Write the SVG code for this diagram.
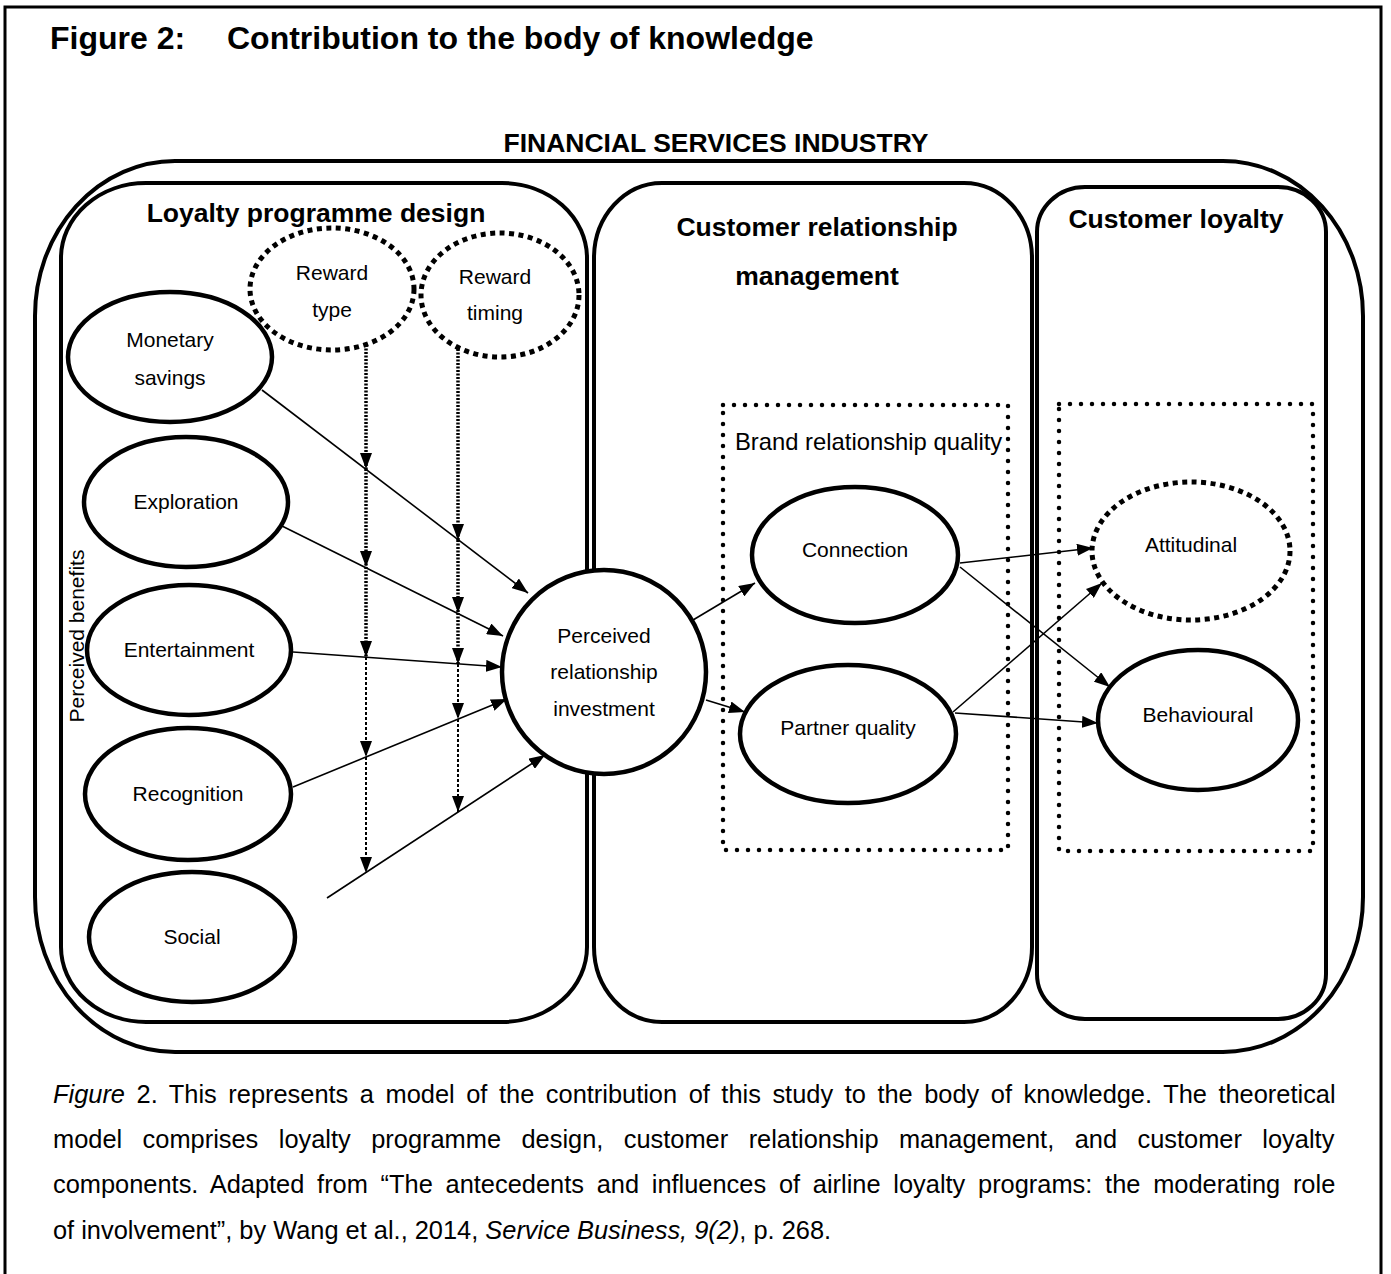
<svg xmlns="http://www.w3.org/2000/svg" width="1391" height="1274" viewBox="0 0 1391 1274">
  <style>
    .box { fill: none; stroke: #000; stroke-width: 4; }
    .node { fill: #fff; stroke: #000; stroke-width: 4.5; }
    .dash-node { fill: #fff; stroke: #000; stroke-width: 5; stroke-dasharray: 5 4.5; }
    .dots { fill: none; stroke: #000; stroke-width: 4.5; stroke-dasharray: 0 11; stroke-linecap: round; }
    .lbl { font-family: "Liberation Sans", Arial, sans-serif; font-size: 21px; fill: #000; text-anchor: middle; }
    .head { font-family: "Liberation Sans", Arial, sans-serif; font-size: 26.5px; font-weight: bold; fill: #000; text-anchor: middle; }
    .cap { font-family: "Liberation Sans", Arial, sans-serif; font-size: 25.4px; fill: #000; }
    .edge { fill: none; stroke: #000; stroke-width: 1.6; marker-end: url(#arrow); }
    .mod-thick { fill: none; stroke: #000; stroke-width: 3.5; stroke-dasharray: 2 1.5; marker-end: url(#arrow); }
    .mod-thin { fill: none; stroke: #000; stroke-width: 2; stroke-dasharray: 3 2; marker-end: url(#arrow); }
  </style>
  <defs>
    <marker id="arrow" viewBox="0 0 16 12" refX="16" refY="6" markerWidth="16" markerHeight="12" markerUnits="userSpaceOnUse" orient="auto">
      <path d="M0,0 L16,6 L0,12 Z" fill="#000"/>
    </marker>
  </defs>

  <rect width="1391" height="1274" fill="#fff"/>

  <!-- page frame (open at the bottom) -->
  <path d="M5,1274 V7 H1381 V1274" fill="none" stroke="#000" stroke-width="3"/>

  <!-- title -->
  <g id="title" font-family="Liberation Sans, Arial, sans-serif" font-size="32" font-weight="bold">
    <text x="50" y="49">Figure 2:</text>
    <text x="227" y="49">Contribution to the body of knowledge</text>
  </g>

  <!-- industry container -->
  <g id="industry">
    <rect class="box" x="35" y="161" width="1328" height="891" rx="140" ry="155"/>
    <text class="head" x="716" y="152">FINANCIAL SERVICES INDUSTRY</text>
  </g>

  <!-- section containers -->
  <g id="section-design">
    <rect class="box" x="61" y="183" width="526" height="839" rx="85" ry="75"/>
    <text class="head" x="316" y="222">Loyalty programme design</text>
    <text class="lbl" transform="translate(84,636) rotate(-90)">Perceived benefits</text>
  </g>
  <g id="section-crm">
    <rect class="box" x="594" y="183" width="438" height="839" rx="68" ry="75"/>
    <text class="head" x="817" y="236">Customer relationship</text>
    <text class="head" x="817" y="285">management</text>
  </g>
  <g id="section-loyalty">
    <rect class="box" x="1037" y="187" width="289" height="832" rx="48" ry="45"/>
    <text class="head" x="1176" y="228">Customer loyalty</text>
  </g>

  <!-- dotted groupings -->
  <g id="brand-quality">
    <rect class="dots" x="723" y="405" width="285" height="445"/>
    <text class="lbl" x="735" y="450" style="font-size:23.8px;text-anchor:start">Brand relationship quality</text>
  </g>
  <g id="loyalty-group">
    <rect class="dots" x="1059" y="404" width="254" height="447"/>
  </g>

  <!-- connectors -->
  <g id="connectors">
    <!-- benefits to perceived relationship investment -->
    <line class="edge" x1="262" y1="390" x2="528" y2="593"/>
    <line class="edge" x1="280" y1="525" x2="503" y2="636"/>
    <line class="edge" x1="293" y1="652" x2="502" y2="667"/>
    <line class="edge" x1="293" y1="787" x2="507" y2="699"/>
    <line class="edge" x1="327" y1="898" x2="545" y2="755"/>
    <!-- reward type moderation -->
    <line class="mod-thick" x1="366" y1="345" x2="366" y2="469"/>
    <line class="mod-thick" x1="366" y1="469" x2="366" y2="567"/>
    <line class="mod-thick" x1="366" y1="567" x2="366" y2="657"/>
    <line class="mod-thin" x1="366" y1="657" x2="366" y2="757"/>
    <line class="mod-thin" x1="366" y1="757" x2="366" y2="873"/>
    <!-- reward timing moderation -->
    <line class="mod-thick" x1="458" y1="349" x2="458" y2="540"/>
    <line class="mod-thick" x1="458" y1="540" x2="458" y2="613"/>
    <line class="mod-thick" x1="458" y1="613" x2="458" y2="664"/>
    <line class="mod-thin" x1="458" y1="664" x2="458" y2="719"/>
    <line class="mod-thin" x1="458" y1="719" x2="458" y2="812"/>
    <!-- relationship investment to brand relationship quality -->
    <line class="edge" x1="693" y1="620" x2="755" y2="583"/>
    <line class="edge" x1="706" y1="700" x2="745" y2="712"/>
    <!-- brand relationship quality to loyalty -->
    <line class="edge" x1="960" y1="563" x2="1093" y2="548"/>
    <line class="edge" x1="960" y1="567" x2="1110" y2="687"/>
    <line class="edge" x1="953" y1="712" x2="1102" y2="583"/>
    <line class="edge" x1="955" y1="713" x2="1098" y2="723"/>
  </g>

  <!-- nodes -->
  <g id="monetary">
    <ellipse class="node" cx="170" cy="357" rx="102" ry="65"/>
    <text class="lbl" x="170" y="347">Monetary</text>
    <text class="lbl" x="170" y="385">savings</text>
  </g>
  <g id="exploration">
    <ellipse class="node" cx="186" cy="502" rx="102" ry="65"/>
    <text class="lbl" x="186" y="509">Exploration</text>
  </g>
  <g id="entertainment">
    <ellipse class="node" cx="189" cy="650" rx="102" ry="65"/>
    <text class="lbl" x="189" y="657">Entertainment</text>
  </g>
  <g id="recognition">
    <ellipse class="node" cx="188" cy="794" rx="103" ry="66"/>
    <text class="lbl" x="188" y="801">Recognition</text>
  </g>
  <g id="social">
    <ellipse class="node" cx="192" cy="937" rx="103" ry="65"/>
    <text class="lbl" x="192" y="944">Social</text>
  </g>
  <g id="reward-type">
    <ellipse class="dash-node" cx="332" cy="289" rx="82" ry="61"/>
    <text class="lbl" x="332" y="280">Reward</text>
    <text class="lbl" x="332" y="317">type</text>
  </g>
  <g id="reward-timing">
    <ellipse class="dash-node" cx="500" cy="295" rx="79" ry="62"/>
    <text class="lbl" x="495" y="284">Reward</text>
    <text class="lbl" x="495" y="320">timing</text>
  </g>
  <g id="relationship-investment">
    <ellipse class="node" cx="604" cy="672" rx="102" ry="102"/>
    <text class="lbl" x="604" y="643">Perceived</text>
    <text class="lbl" x="604" y="679">relationship</text>
    <text class="lbl" x="604" y="716">investment</text>
  </g>
  <g id="connection">
    <ellipse class="node" cx="855" cy="555" rx="103" ry="68"/>
    <text class="lbl" x="855" y="557">Connection</text>
  </g>
  <g id="partner-quality">
    <ellipse class="node" cx="848" cy="734" rx="108" ry="69"/>
    <text class="lbl" x="848" y="735">Partner quality</text>
  </g>
  <g id="attitudinal">
    <ellipse class="dash-node" cx="1191" cy="551" rx="99" ry="69"/>
    <text class="lbl" x="1191" y="552">Attitudinal</text>
  </g>
  <g id="behavioural">
    <ellipse class="node" cx="1198" cy="720" rx="100" ry="70"/>
    <text class="lbl" x="1198" y="722">Behavioural</text>
  </g>

  <!-- caption -->
  <g id="caption" class="cap" xml:space="preserve">
    <text x="53" y="1103" word-spacing="4.5"><tspan font-style="italic">Figure</tspan> 2.  This represents a model of the contribution of this study to the body of knowledge. The theoretical</text>
    <text x="53" y="1148" word-spacing="13.4">model comprises loyalty programme design, customer relationship management, and customer loyalty</text>
    <text x="53" y="1193" word-spacing="5.7">components. Adapted from “The antecedents and influences of airline loyalty programs: the moderating role</text>
    <text x="53" y="1239">of involvement”, by Wang et al., 2014, <tspan font-style="italic">Service Business, 9(2)</tspan>, p. 268.</text>
  </g>
</svg>
